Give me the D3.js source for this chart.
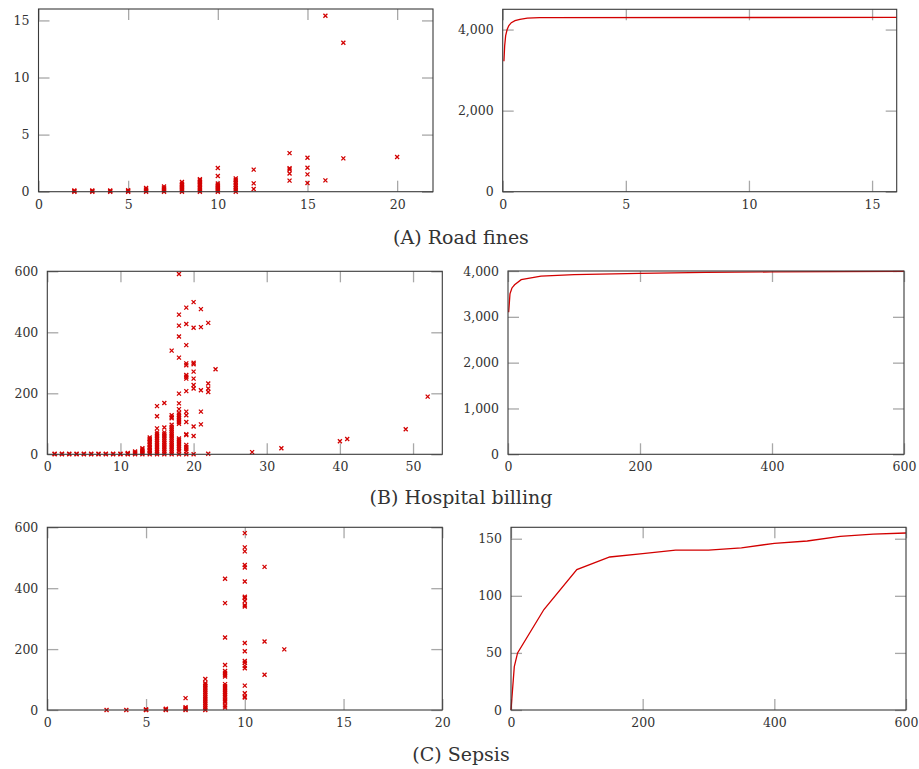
<!DOCTYPE html>
<html>
<head>
<meta charset="utf-8">
<script src="https://cdn.jsdelivr.net/npm/d3@7"></script>
<style>
  html, body { margin: 0; padding: 0; background: #fff; }
  svg text { font-family: "DejaVu Serif", "Liberation Serif", serif; fill: #333; }
</style>
</head>
<body>
<svg id="chart" width="919" height="769"></svg>
<script>
// ---------------- DATA ----------------
const captions = ["(A) Road fines", "(B) Hospital billing", "(C) Sepsis"];

// Road fines scatter: x value with the y values plotted at it
const roadFinesScatterX = [2, 3, 4, 5, 6, 7, 8, 9, 10, 11, 12, 14, 15, 16, 17, 20];
const roadFinesScatterY = [
  [0, 0.05, 0.1],
  [0, 0.05, 0.1],
  [0, 0.05, 0.1],
  [0, 0.05, 0.12],
  [0, 0.1, 0.2, 0.32],
  [0, 0.1, 0.2, 0.3, 0.45],
  [0, 0.1, 0.2, 0.3, 0.4, 0.5, 0.6, 0.7, 0.85],
  [0, 0.1, 0.2, 0.3, 0.45, 0.6, 0.7, 0.8, 0.9, 1.0, 1.1],
  [0, 0.1, 0.2, 0.3, 0.4, 0.5, 0.6, 0.72, 1.37, 2.07],
  [0, 0.15, 0.3, 0.45, 0.6, 0.75, 0.9, 1.05, 1.17],
  [0.23, 0.73, 1.93],
  [0.97, 1.6, 1.95, 2.05, 3.38],
  [0.76, 1.52, 2.1, 2.98],
  [0.99, 15.41],
  [2.92, 13.05],
  [3.04]
];
const roadFinesLineX = [0.05, 0.08, 0.12, 0.18, 0.25, 0.35, 0.5, 0.7, 1.0, 1.5, 16];
const roadFinesLineY = [3220, 3600, 3850, 4000, 4100, 4170, 4220, 4250, 4280, 4295, 4300];

// Hospital billing
const hospitalScatterX = [1, 2, 3, 4, 5, 6, 7, 8, 9, 10, 11, 12, 13, 14, 15, 16, 17, 18, 19, 20, 21, 22, 23, 28, 32, 40, 41, 49, 52];
const hospitalScatterY = [
  [0, 2], [0, 2], [0, 2], [0, 2], [0, 2], [0, 2], [0, 2], [0, 2], [0, 2], [0, 2],
  [0, 2, 4],
  [0, 3, 6, 9],
  [0, 4, 8, 12, 16, 20],
  [0, 5, 10, 15, 20, 25, 30, 35, 40, 45, 50, 55],
  [0, 6, 12, 18, 24, 30, 36, 42, 48, 54, 60, 66, 72, 85, 125, 158],
  [0, 6, 12, 18, 24, 30, 36, 42, 48, 54, 60, 66, 72, 88, 168],
  [0, 6, 12, 18, 24, 30, 36, 42, 48, 54, 60, 66, 72, 78, 84, 90, 97, 118, 122, 128, 340],
  [0, 10, 16, 22, 28, 34, 40, 46, 52, 100, 106, 112, 118, 124, 130, 136, 148, 167, 199, 317, 386, 422, 458, 591],
  [0, 10, 17, 24, 31, 63, 66, 106, 128, 140, 207, 248, 254, 260, 292, 298, 358, 427, 481],
  [0, 60, 91, 216, 227, 248, 271, 295, 300, 415, 499],
  [98, 140, 210, 417, 476],
  [2, 204, 216, 232, 431],
  [279],
  [7],
  [20],
  [43],
  [50],
  [82],
  [189]
];
const hospitalLineX = [1, 3, 6, 10, 20, 50, 100, 200, 300, 400, 600];
const hospitalLineY = [3100, 3500, 3630, 3700, 3810, 3890, 3920, 3950, 3970, 3980, 3990];

// Sepsis
const sepsisScatterX = [3, 4, 5, 6, 7, 8, 9, 10, 11, 12];
const sepsisScatterY = [
  [0],
  [0],
  [0, 1, 2],
  [0, 2, 4],
  [0, 3, 6, 9, 39],
  [0, 6, 12, 18, 24, 30, 36, 42, 48, 54, 60, 66, 72, 78, 84, 88, 102],
  [8, 15, 25, 30, 35, 42, 48, 54, 60, 66, 72, 78, 85, 110, 116, 122, 128, 148, 238, 351, 431],
  [41, 44, 55, 80, 137, 145, 155, 161, 193, 220, 340, 344, 358, 368, 372, 422, 468, 476, 521, 534, 581],
  [116, 225, 470],
  [199]
];
const sepsisLineX = [0, 5, 10, 50, 100, 150, 200, 250, 300, 350, 400, 450, 500, 550, 600];
const sepsisLineY = [0, 38, 50, 88, 123, 134, 137, 140, 140, 142, 146, 148, 152, 154, 155];

// Axis ticks
const roadScatterXTicks = [0, 5, 10, 15, 20];
const roadScatterYTicks = [0, 5, 10, 15];
const roadLineXTicks = [0, 5, 10, 15];
const roadLineYTicks = [0, 2000, 4000];
const hospScatterXTicks = [0, 10, 20, 30, 40, 50];
const hospScatterYTicks = [0, 200, 400, 600];
const hospLineXTicks = [0, 200, 400, 600];
const hospLineYTicks = [0, 1000, 2000, 3000, 4000];
const sepsisScatterXTicks = [0, 5, 10, 15, 20];
const sepsisScatterYTicks = [0, 200, 400, 600];
const sepsisLineXTicks = [0, 200, 400, 600];
const sepsisLineYTicks = [0, 50, 100, 150];

// ---------------- DRAW ----------------
const RED = "#d20000";
const svg = d3.select("#chart");

function panel(box, xDomain, yDomain, xTicks, yTicks) {
  const x = d3.scaleLinear().domain(xDomain).range([box.x0, box.x1]);
  const y = d3.scaleLinear().domain(yDomain).range([box.y1, box.y0]);
  const g = svg.append("g");
  const fmt = d3.format(",");
  const T = 11;
  const styleAxis = (sel, labels) => {
    sel.select(".domain").remove();
    sel.selectAll(".tick line").attr("stroke", "#a8a8a8").attr("stroke-width", 1.3);
    if (!labels) sel.selectAll(".tick text").remove();
    else sel.selectAll(".tick text").attr("font-size", 12.5).attr("fill", "#3a3a3a");
  };
  g.append("g").attr("transform", `translate(0,${box.y1})`)
    .call(d3.axisBottom(x).tickValues(xTicks).tickSizeInner(-T).tickSizeOuter(0).tickPadding(8).tickFormat(fmt))
    .call(s => styleAxis(s, true));
  g.append("g").attr("transform", `translate(0,${box.y0})`)
    .call(d3.axisTop(x).tickValues(xTicks).tickSizeInner(-T).tickSizeOuter(0))
    .call(s => styleAxis(s, false));
  g.append("g").attr("transform", `translate(${box.x0},0)`)
    .call(d3.axisLeft(y).tickValues(yTicks).tickSizeInner(-T).tickSizeOuter(0).tickPadding(9).tickFormat(fmt))
    .call(s => styleAxis(s, true));
  g.append("g").attr("transform", `translate(${box.x1},0)`)
    .call(d3.axisRight(y).tickValues(yTicks).tickSizeInner(-T).tickSizeOuter(0))
    .call(s => styleAxis(s, false));
  const plot = g.append("g");
  g.append("rect")
    .attr("x", box.x0).attr("y", box.y0)
    .attr("width", box.x1 - box.x0).attr("height", box.y1 - box.y0)
    .attr("fill", "none").attr("stroke", "#3a3a3a").attr("stroke-width", 1.1);
  return { x, y, plot };
}

function scatter(p, xs, ys) {
  const pts = [];
  xs.forEach((xv, i) => ys[i].forEach(yv => pts.push([xv, yv])));
  p.plot.selectAll("path.m").data(pts).enter().append("path")
    .attr("class", "m")
    .attr("transform", d => `translate(${p.x(d[0])},${p.y(d[1])})`)
    .attr("d", "M-2,-2L2,2M-2,2L2,-2")
    .attr("stroke", RED).attr("stroke-width", 1.3).attr("fill", "none");
}

function line(p, xs, ys) {
  const pts = xs.map((xv, i) => [xv, ys[i]]);
  p.plot.append("path").datum(pts)
    .attr("d", d3.line().x(d => p.x(d[0])).y(d => p.y(d[1])))
    .attr("fill", "none").attr("stroke", RED).attr("stroke-width", 1.3);
}

const pA1 = panel({x0: 38.5, x1: 433, y0: 9, y1: 191.7}, [0, 22], [0, 16], roadScatterXTicks, roadScatterYTicks);
scatter(pA1, roadFinesScatterX, roadFinesScatterY);
const pA2 = panel({x0: 502.7, x1: 896.7, y0: 9.3, y1: 191.7}, [0, 16], [0, 4500], roadLineXTicks, roadLineYTicks);
line(pA2, roadFinesLineX, roadFinesLineY);

const pB1 = panel({x0: 47.3, x1: 442.3, y0: 271.3, y1: 454.3}, [0, 54], [0, 600], hospScatterXTicks, hospScatterYTicks);
scatter(pB1, hospitalScatterX, hospitalScatterY);
const pB2 = panel({x0: 508, x1: 904, y0: 271, y1: 454.3}, [0, 600], [0, 4000], hospLineXTicks, hospLineYTicks);
line(pB2, hospitalLineX, hospitalLineY);

const pC1 = panel({x0: 47.3, x1: 442.3, y0: 527.3, y1: 710}, [0, 20], [0, 600], sepsisScatterXTicks, sepsisScatterYTicks);
scatter(pC1, sepsisScatterX, sepsisScatterY);
const pC2 = panel({x0: 511, x1: 906, y0: 527.3, y1: 710}, [0, 600], [0, 160], sepsisLineXTicks, sepsisLineYTicks);
line(pC2, sepsisLineX, sepsisLineY);

const captionY = [244, 504, 761];
captions.forEach((c, i) => {
  svg.append("text").attr("x", 461).attr("y", captionY[i])
    .attr("text-anchor", "middle").attr("font-size", 19).attr("fill", "#222").text(c);
});
</script>
</body>
</html>
